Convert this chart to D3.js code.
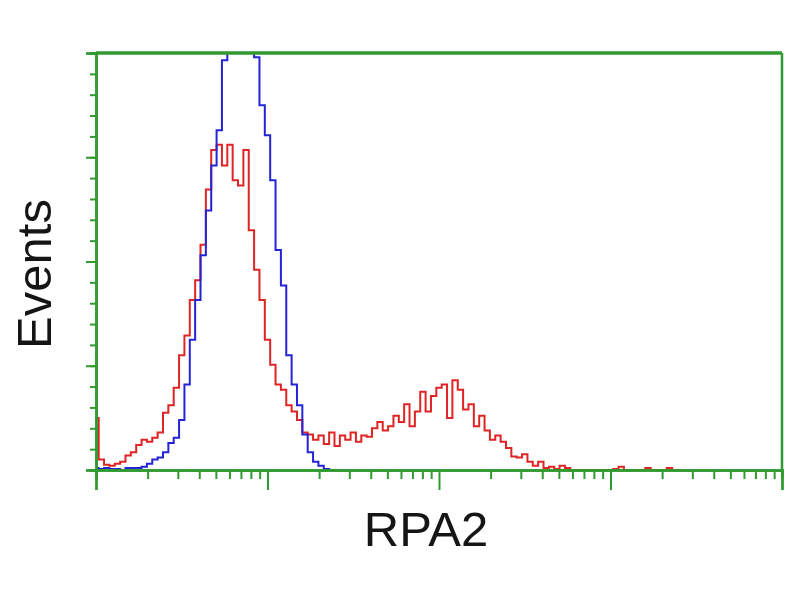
<!DOCTYPE html>
<html>
<head>
<meta charset="utf-8">
<script src="https://cdn.jsdelivr.net/npm/d3@7"></script>
<style>
  body { margin: 0; background: #fff; }
  svg { display: block; }
</style>
</head>
<body>
<div id="chart"></div>
<script>
// histogram bins, 8 channels wide (1024 channels over 4 log decades)
var binWidth = 8;

// red: RPA2 stained
var redCounts = [50, 10, 5, 4, 6, 8, 14, 17, 24, 29,
  27, 31, 36, 55, 62, 79, 110, 129, 163, 182,
  216, 269, 307, 312, 292, 312, 278, 273, 307, 230,
  192, 163, 125, 101, 82, 77, 62, 56, 48, 36,
  34, 29, 33, 25, 36, 23, 33, 29, 36, 27,
  33, 32, 40, 46, 38, 42, 52, 46, 63, 42,
  56, 75, 56, 71, 79, 82, 50, 86, 77, 58,
  63, 42, 52, 38, 29, 33, 27, 21, 13, 12,
  15, 8, 4, 8, 2, 3, 1, 4, 2, 0,
  0, 0, 0, 0, 0, 0, 0, 1, 3, 0,
  0, 0, 0, 2, 0, 0, 0, 2, 0, 0];

// blue: control
var blueCounts = [2, 1, 2, 1, 1, 0, 2, 2, 2, 3,
  6, 10, 12, 17, 26, 31, 48, 82, 125, 163,
  206, 249, 292, 326, 393, 430, 440, 445, 440, 430,
  396, 350, 321, 278, 211, 177, 110, 82, 62, 34,
  17, 8, 4, 1, 0, 0];

var yMax = 400;
var yMajor = [0, 100, 200, 300, 400];
var xDecades = [1, 10, 100, 1000, 10000];

var margin = {left: 96, right: 18, top: 53, bottom: 130},
    width = 800, height = 600;

var svg = d3.select("#chart").append("svg")
  .attr("width", width)
  .attr("height", height);

var green = "#2f9a2f";

var xCh = d3.scaleLinear().domain([0, 1024]).range([margin.left, width - margin.right]);
var xLog = d3.scaleLog().domain([1, 10000]).range([margin.left, width - margin.right]);
var y = d3.scaleLinear().domain([0, yMax]).range([height - margin.bottom, margin.top]);

svg.append("clipPath").attr("id", "plotclip")
  .append("rect")
  .attr("x", margin.left).attr("y", margin.top)
  .attr("width", width - margin.left - margin.right)
  .attr("height", height - margin.top - margin.bottom);

// histogram lines, each bin centred on its channel
var line = d3.line()
  .x(function(d, i) { return xCh(i * binWidth); })
  .y(function(d) { return y(d); })
  .curve(d3.curveStep);

var plot = svg.append("g").attr("clip-path", "url(#plotclip)");

plot.append("path")
  .datum(redCounts)
  .attr("fill", "none")
  .attr("stroke", "#de2424")
  .attr("stroke-width", 2)
  .attr("d", line);

plot.append("path")
  .datum(blueCounts)
  .attr("fill", "none")
  .attr("stroke", "#2424d6")
  .attr("stroke-width", 2)
  .attr("d", line);

// y axis: minor + major ticks
var yMinor = d3.range(0, yMax + 1, 20);
var yAxisMinor = svg.append("g")
  .attr("transform", "translate(" + margin.left + ",0)")
  .call(d3.axisLeft(y).tickValues(yMinor).tickSize(6).tickFormat(""));
var yAxisMajor = svg.append("g")
  .attr("transform", "translate(" + margin.left + ",0)")
  .call(d3.axisLeft(y).tickValues(yMajor).tickSize(10).tickFormat(""));

// x axis: log minor + decade ticks
var xMinor = [];
xDecades.slice(0, -1).forEach(function(d) {
  for (var k = 2; k < 10; k++) xMinor.push(d * k);
});
var xAxisMinor = svg.append("g")
  .attr("transform", "translate(0," + y(0) + ")")
  .call(d3.axisBottom(xLog).tickValues(xMinor).tickSize(9).tickFormat(""));
var xAxisMajor = svg.append("g")
  .attr("transform", "translate(0," + y(0) + ")")
  .call(d3.axisBottom(xLog).tickValues(xDecades).tickSize(20).tickFormat(""));

[yAxisMinor, yAxisMajor, xAxisMinor, xAxisMajor].forEach(function(g) {
  g.selectAll("line").attr("stroke", green).attr("stroke-width", 2);
  g.select(".domain").attr("stroke", green).attr("stroke-width", 2.5);
});

// frame top + right
svg.append("line")
  .attr("x1", margin.left).attr("x2", width - margin.right)
  .attr("y1", margin.top).attr("y2", margin.top)
  .attr("stroke", green).attr("stroke-width", 3.5);
svg.append("line")
  .attr("x1", width - margin.right).attr("x2", width - margin.right)
  .attr("y1", margin.top).attr("y2", y(0))
  .attr("stroke", green).attr("stroke-width", 2.5);

// labels
svg.append("text")
  .attr("transform", "translate(51,274) rotate(-90)")
  .attr("text-anchor", "middle")
  .style("font-family", "Liberation Sans, Arial, sans-serif")
  .style("font-size", "49px")
  .attr("fill", "#151515")
  .text("Events");

svg.append("text")
  .attr("x", 426).attr("y", 546)
  .attr("text-anchor", "middle")
  .style("font-family", "Liberation Sans, Arial, sans-serif")
  .style("font-size", "49px")
  .attr("fill", "#151515")
  .text("RPA2");
</script>
</body>
</html>
